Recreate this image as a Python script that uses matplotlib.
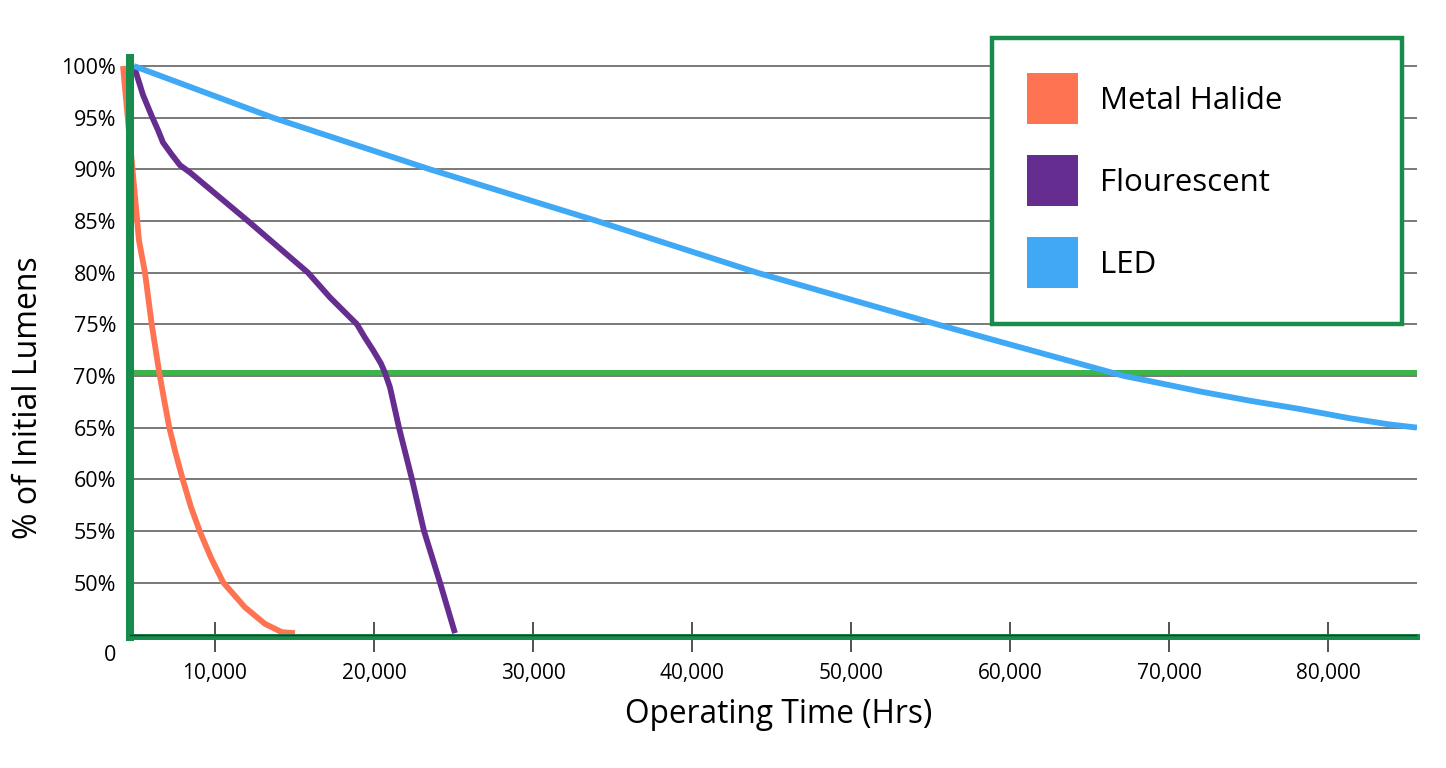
import matplotlib.pyplot as plt
from matplotlib.patches import Patch

plt.rcParams['font.family'] = ['Open Sans', 'DejaVu Sans']

# operating hours vs % of initial lumens
metal_hours = [4214, 4710, 5220, 5597, 6019, 6497, 6811, 7126, 7528, 7968, 8490, 9056,
               9748, 10522, 11886, 13144, 14194, 15031]
metal_pct = [100, 91.7, 83.1, 80.0, 75.0, 70.3, 67.6, 65.0, 62.5, 60.0, 57.3, 54.9,
             52.4, 50.0, 47.6, 46.0, 45.2, 45.1]

fluor_hours = [4906, 5472, 6038, 6415, 6729, 7295, 7798, 8427, 12075, 15848, 17232, 18930,
               19433, 19936, 20439, 20691, 21005, 21571, 22389, 23143, 24150, 25093]
fluor_pct = [100, 97.2, 95.1, 93.8, 92.6, 91.4, 90.4, 89.7, 85.0, 80.0, 77.6, 75.0,
             73.7, 72.5, 71.2, 70.3, 68.9, 65.0, 60.0, 55.0, 50.0, 45.1]

led_hours = [4906, 13647, 23521, 34024, 44086, 55406, 67166, 69431, 71946, 75091, 78235,
             81380, 83895, 85594]
led_pct = [100, 95, 90, 85, 80, 75, 70, 69.3, 68.5, 67.6, 66.8, 65.9, 65.3, 65.0]

labels = ['Metal Halide', 'Flourescent', 'LED']
colors = ['#fe7452', '#662d91', '#3fa9f5']

y_grid = [50, 55, 60, 65, 70, 75, 80, 85, 90, 95, 100]
y_ticklabels = ['50%', '55%', '60%', '65%', '70%', '75%', '80%', '85%', '90%', '95%', '100%']
x_ticks = [10000, 20000, 30000, 40000, 50000, 60000, 70000, 80000]
x_ticklabels = ['10,000', '20,000', '30,000', '40,000', '50,000', '60,000', '70,000', '80,000']

green = '#178c4d'

fig = plt.figure(figsize=(14.46, 7.68), dpi=100)
ax = fig.add_axes([0.0899, 0.1706, 0.8900, 0.7539])

ax.set_xlim(4654, 85594)
ax.set_ylim(44.73, 100.78)

for y in y_grid:
    ax.axhline(y, color='#555555', lw=1.1, zorder=1)
# 70% threshold line
ax.axhline(70.4, color='#3db54a', lw=3.6, zorder=1.5)
ax.axhline(44.95, color='#1a3a2a', lw=1.0, zorder=2.6)

ax.plot(metal_hours, metal_pct, color=colors[0], lw=4.2, clip_on=False, solid_capstyle='butt')
ax.plot(fluor_hours, fluor_pct, color=colors[1], lw=4.2, solid_capstyle='butt')
ax.plot(led_hours, led_pct, color=colors[2], lw=4.2, solid_capstyle='butt')

for side in ['top', 'right']:
    ax.spines[side].set_visible(False)
ax.spines['left'].set_color(green)
ax.spines['left'].set_linewidth(5.8)
ax.spines['bottom'].set_color(green)
ax.spines['bottom'].set_linewidth(4.3)

ax.set_yticks(y_grid)
ax.set_yticklabels(y_ticklabels)
ax.set_xticks(x_ticks)
ax.set_xticklabels(x_ticklabels)
ax.tick_params(axis='y', length=0, pad=10, labelsize=15.5)
ax.tick_params(axis='x', direction='inout', length=21, width=1.1, color='#222222',
               pad=8, labelsize=15)

ax.annotate('0', xy=(0, 44.73), xycoords=('axes fraction', 'data'),
            xytext=(-10, -13), textcoords='offset points',
            ha='right', va='center', fontsize=15.5)

ax.set_xlabel('Operating Time (Hrs)', fontsize=22.8)
ax.xaxis.set_label_coords(0.504, -0.105)
ax.set_ylabel('% of Initial Lumens', fontsize=23)
ax.yaxis.set_label_coords(-0.066, 0.413)

handles = [Patch(facecolor=c, edgecolor='none', label=l) for c, l in zip(colors, labels)]
leg = fig.legend(handles=handles, loc='upper left',
                 bbox_to_anchor=(0.686, 0.5, 0.2835, 0.4505), mode='expand',
                 borderaxespad=0, fontsize=22.5, handlelength=1.63, handleheight=2.134,
                 labelspacing=0.99, handletextpad=0.7, borderpad=1.13,
                 fancybox=False, framealpha=1)
leg.get_frame().set_edgecolor(green)
leg.get_frame().set_linewidth(3.2)

fig.savefig('out.png', dpi=100)
